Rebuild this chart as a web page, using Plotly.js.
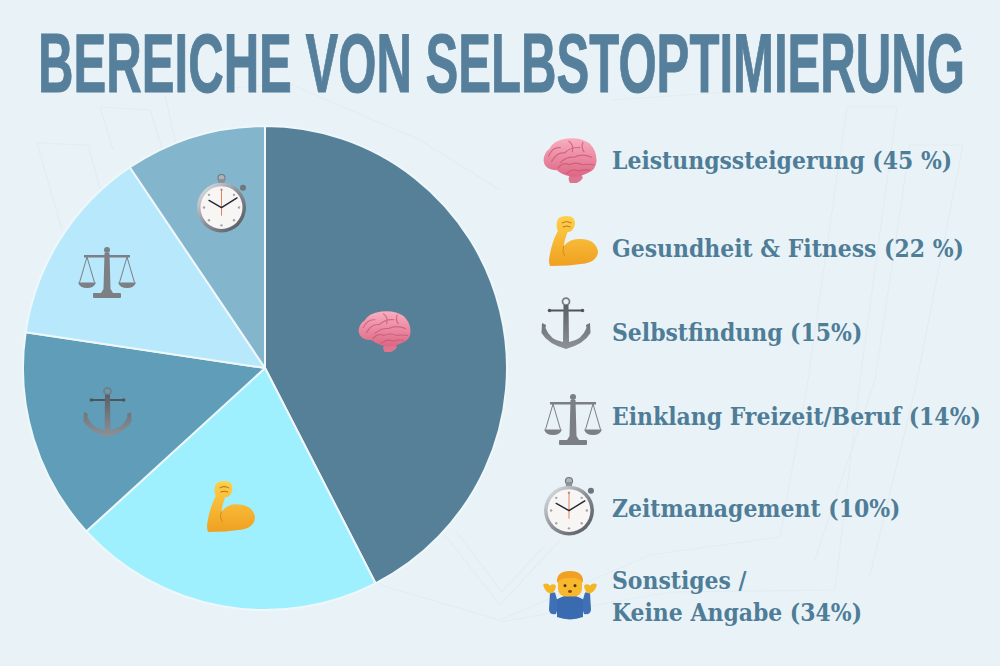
<!DOCTYPE html>
<html>
<head>
<meta charset="utf-8">
<script src="https://cdn.plot.ly/plotly-3.0.1.min.js"></script>
<style>
html, body { margin: 0; padding: 0; background: #e9f3f7; }
#chart { width: 1000px; height: 666px; }
</style>
</head>
<body>
<div id="chart"></div>
<script>
const chartTitle = "BEREICHE VON SELBSTOPTIMIERUNG";
const categories = ["Leistungssteigerung", "Gesundheit & Fitness", "Selbstfindung", "Einklang Freizeit/Beruf", "Zeitmanagement"];
const values = [45, 22, 15, 14, 10];
const sliceColors = ["#567f98", "#9ff0ff", "#5f9db8", "#b8e8fb", "#83b5cc"];
const legendLabels = [
    "Leistungssteigerung (45 %)",
    "Gesundheit &amp; Fitness (22 %)",
    "Selbstfindung (15%)",
    "Einklang Freizeit/Beruf (14%)",
    "Zeitmanagement (10%)",
    "Sonstiges /<br>Keine Angabe (34%)"
];
const legendY = [160, 248, 332, 416, 508, 596];

const W = 1000, H = 666;
const px = x => x / W;
const py = y => 1 - y / H;

// icons, hand drawn as small svgs
const icons = {
    brain: `<svg xmlns="http://www.w3.org/2000/svg" viewBox="0 0 100 84" preserveAspectRatio="none">
        <defs><linearGradient id="b" x1="0" y1="0" x2="0" y2="1"><stop offset="0" stop-color="#f9afc0"/><stop offset="1" stop-color="#dc6684"/></linearGradient></defs>
        <path d="M52 64 Q70 64 74 74 Q66 88 50 84 Q44 74 52 64Z" fill="#dd7590"/>
        <path d="M1 42 Q2 26 12 20 Q20 4 44 1 Q70 -2 86 10 Q100 24 99 44 Q98 60 82 66 Q64 76 44 70 Q32 66 26 60 Q3 60 1 42Z" fill="url(#b)"/>
        <g fill="none" stroke="#c9506f" stroke-width="2.2" stroke-linecap="round" opacity=".7">
            <path d="M10 34 Q18 16 32 18 M16 44 Q26 26 40 28 Q52 16 68 18 M32 46 Q44 34 58 36 Q72 28 90 36"/>
            <path d="M28 56 Q38 44 48 50 Q62 44 72 50 Q82 48 94 50 M44 66 Q54 56 66 62 Q76 58 86 60"/>
            <path d="M48 6 Q58 14 54 26 M74 8 Q70 18 76 26"/>
        </g></svg>`,
    arm: `<svg xmlns="http://www.w3.org/2000/svg" viewBox="0 0 100 100" preserveAspectRatio="none">
        <defs><linearGradient id="a" x1="0" y1="0" x2="0" y2="1"><stop offset="0" stop-color="#ffd04a"/><stop offset="1" stop-color="#efa020"/></linearGradient></defs>
        <path d="M20 4 Q30 -2 44 1 Q56 6 52 20 Q48 32 38 32 Q32 46 30 60 Q44 44 64 46 Q94 46 100 70 Q100 90 74 95 Q40 100 2 100 Q-2 90 2 76 Q6 52 18 30 Q12 14 20 4Z" fill="url(#a)"/>
        <path d="M26 14 Q36 8 46 14 M28 22 Q36 18 44 22" stroke="#b9761a" stroke-width="2" fill="none"/>
        <path d="M30 60 Q26 72 32 80" stroke="#d68c18" stroke-width="2" fill="none"/></svg>`,
    anchor: `<svg xmlns="http://www.w3.org/2000/svg" viewBox="0 0 100 104" preserveAspectRatio="none">
        <defs><linearGradient id="c" x1="0" y1="0" x2="0" y2="1"><stop offset="0" stop-color="#5b5f66"/><stop offset="1" stop-color="#8d9198"/></linearGradient></defs>
        <circle cx="50" cy="9" r="7" fill="none" stroke="#777b83" stroke-width="3.5"/>
        <rect x="16" y="25" width="68" height="4" rx="2" fill="#4f535b"/>
        <circle cx="17" cy="27" r="3.5" fill="#4f535b"/><circle cx="83" cy="27" r="3.5" fill="#4f535b"/>
        <path d="M45 16 H55 L56 90 Q82 86 91 62 L90 56 L98 52 L99 72 Q86 94 50 104 Q14 94 1 72 L2 52 L10 56 L9 62 Q18 86 44 90Z" fill="url(#c)"/></svg>`,
    scale: `<svg xmlns="http://www.w3.org/2000/svg" viewBox="0 0 116 104" preserveAspectRatio="none">
        <g fill="#7c7f84">
            <circle cx="58" cy="6" r="6"/>
            <rect x="12" y="16" width="92" height="5"/>
            <path d="M53 12 H63 L65 84 L70 92 H46 L51 84Z"/>
            <rect x="30" y="92" width="56" height="10" rx="2"/>
            <path d="M0 71 H36 Q32 82 18 82 Q4 82 0 71Z"/>
            <path d="M80 71 H116 Q112 82 98 82 Q84 82 80 71Z"/>
        </g>
        <g fill="none" stroke="#7c7f84" stroke-width="2">
            <path d="M18 20 L3 71 M18 20 L33 71 M98 20 L83 71 M98 20 L113 71"/>
        </g></svg>`,
    watch: `<svg xmlns="http://www.w3.org/2000/svg" viewBox="0 0 100 116" preserveAspectRatio="none">
        <defs><linearGradient id="d" x1="0" y1="0" x2="1" y2="1"><stop offset="0" stop-color="#eceff1"/><stop offset=".5" stop-color="#8b9097"/><stop offset="1" stop-color="#4c5057"/></linearGradient></defs>
        <circle cx="49" cy="8" r="7" fill="#aeb3b8" stroke="#70757c" stroke-width="2"/>
        <rect x="43" y="10" width="12" height="10" fill="#8b9097"/>
        <circle cx="92" cy="27" r="6" fill="#70757c"/>
        <circle cx="49" cy="66" r="49" fill="url(#d)"/>
        <circle cx="49" cy="66" r="42" fill="#f7f6f4"/>
        <g fill="#a3a6ab">
            <circle cx="49" cy="31" r="2.4"/><circle cx="49" cy="101" r="2.4"/><circle cx="14" cy="66" r="2.4"/><circle cx="84" cy="66" r="2.4"/>
            <circle cx="24" cy="41" r="2.4"/><circle cx="74" cy="41" r="2.4"/><circle cx="24" cy="91" r="2.4"/><circle cx="74" cy="91" r="2.4"/>
        </g>
        <path d="M49 30 V82" stroke="#e0683c" stroke-width="1.6"/>
        <path d="M49 66 L24 52 M49 66 L80 47" stroke="#23262c" stroke-width="2.8" stroke-linecap="round"/></svg>`,
    shrug: `<svg xmlns="http://www.w3.org/2000/svg" viewBox="0 0 108 100" preserveAspectRatio="none">
        <path d="M14 44 L12 78 Q12 90 26 88 L34 62 L74 62 L82 88 Q96 90 96 78 L94 44 L84 44 L80 58 Q68 50 54 50 Q40 50 28 58 L24 44Z" fill="#3f6fb5"/>
        <path d="M28 58 Q54 44 80 58 L80 94 Q54 104 28 94Z" fill="#3a6aaf"/>
        <path d="M0 28 Q8 22 14 30 Q20 24 26 30 Q24 44 16 46 Q4 44 0 28Z" fill="#f5b623"/>
        <path d="M108 28 Q100 22 94 30 Q88 24 82 30 Q84 44 92 46 Q104 44 108 28Z" fill="#f5b623"/>
        <rect x="30" y="6" width="48" height="46" rx="16" fill="#f8b82c"/>
        <path d="M28 24 Q26 0 54 0 Q82 0 80 24 Q70 12 54 15 Q38 12 28 24Z" fill="#f2a024"/>
        <circle cx="44" cy="30" r="3" fill="#4a3010"/><circle cx="64" cy="30" r="3" fill="#4a3010"/>
        <ellipse cx="54" cy="42" rx="4" ry="3" fill="#7a4a12"/></svg>`
};
const iconUri = name => "data:image/svg+xml;charset=utf-8," + encodeURIComponent(icons[name]);

// [icon, left, top, right, bottom]
const iconBoxes = [
    ["brain", 543, 138, 597, 183], ["arm", 549, 216, 598, 266], ["anchor", 541, 297, 591, 349],
    ["scale", 544, 394, 602, 446], ["watch", 544, 477, 595, 536], ["shrug", 543, 571, 597, 620],
    ["brain", 358, 311, 411, 352], ["arm", 207, 481, 255, 532], ["anchor", 83, 387, 132, 437],
    ["scale", 78, 247, 136, 299], ["watch", 197, 174, 247, 233]
];

const images = iconBoxes.map(b => ({
    source: iconUri(b[0]), xref: "paper", yref: "paper",
    x: px(b[1]), y: py(b[2]), sizex: (b[3] - b[1]) / W, sizey: (b[4] - b[2]) / H,
    xanchor: "left", yanchor: "top", sizing: "stretch", layer: "above"
}));

// faint book outline in the background
const bookLines = [
    [[37, 143], [88, 145], [120, 260]],
    [[37, 143], [62, 230]],
    [[100, 107], [150, 110], [172, 180]],
    [[100, 107], [113, 150]],
    [[165, 95], [176, 145]],
    [[445, 535], [500, 605], [560, 540]],
    [[455, 530], [502, 592], [545, 545]],
    [[380, 585], [500, 620], [650, 555], [780, 537], [808, 380], [847, 107], [897, 107], [860, 380], [835, 590], [670, 592], [500, 622]],
    [[910, 145], [963, 145], [915, 390], [870, 575]],
    [[910, 145], [875, 380], [815, 560]],
    [[170, 92], [290, 84], [420, 140], [500, 190]],
    [[610, 100], [760, 90], [830, 90]]
];
const shapes = bookLines.map(l => ({
    type: "path", xref: "paper", yref: "paper", layer: "below",
    path: l.map((p, i) => (i ? "L" : "M") + px(p[0]) + "," + py(p[1])).join(" "),
    line: { color: "#e3edf1", width: 1.2 }
}));

const annotations = legendLabels.map((t, i) => ({
    text: t, xref: "paper", yref: "paper", x: px(610), y: py(legendY[i]),
    xanchor: "left", yanchor: "middle", align: "left", showarrow: false,
    font: { family: "DejaVu Serif Condensed, DejaVu Serif, serif", size: 24.4, color: "#4f7d98", weight: 700 }
}));

Plotly.newPlot("chart", [{
    type: "pie",
    labels: categories,
    values: values,
    sort: false,
    direction: "clockwise",
    rotation: 0,
    textinfo: "none",
    hoverinfo: "label+value",
    marker: { colors: sliceColors, line: { color: "#eef7fa", width: 2 } },
    domain: { x: [px(23), px(507)], y: [py(610), py(126)] }
}], {
    width: W, height: H,
    margin: { l: 0, r: 0, t: 0, b: 0 },
    paper_bgcolor: "#e9f3f7",
    showlegend: false,
    title: {
        text: chartTitle,
        x: 0.5015, xanchor: "center", xref: "paper",
        y: py(92), yanchor: "bottom", yref: "paper",
        pad: { b: 0 },
        font: { family: "Liberation Sans Narrow, Liberation Sans, sans-serif", size: 84, color: "#567f9b", weight: 700 }
    },
    shapes: shapes,
    images: images,
    annotations: annotations
}, { displayModeBar: false, staticPlot: true }).then(() => {
    // Bebas style width: squeeze the narrow font to the title's real length
    const t = document.querySelector("#chart .gtitle");
    if (t) {
        const sx = 927 / t.getComputedTextLength();
        const cx = 501.5;
        t.setAttribute("transform", `translate(${cx} 0) scale(${sx} 1) translate(${-cx} 0)`);
        t.style.stroke = "#567f9b";
        t.style.strokeWidth = "1px";
    }
});
</script>
</body>
</html>
